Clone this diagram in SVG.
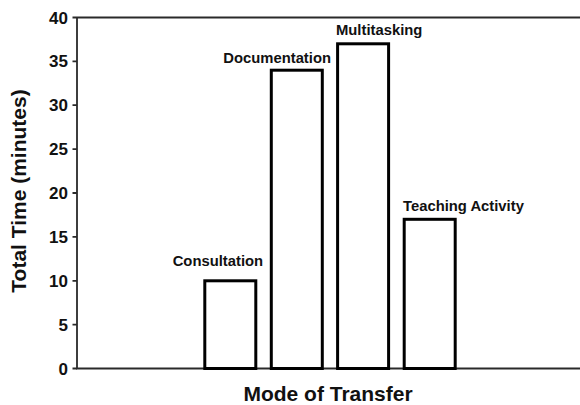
<svg xmlns="http://www.w3.org/2000/svg" width="580" height="405" viewBox="0 0 580 405">
<style>
.ax{stroke:#2a2a2a;stroke-width:1.8;fill:none}
.tick{font-family:"Liberation Sans",Arial,sans-serif;font-weight:bold;font-size:17px;fill:#111;text-anchor:end}
.bar{fill:#fff;stroke:#000;stroke-width:3}
.lbl{font-family:"Liberation Sans",Arial,sans-serif;font-weight:bold;font-size:14.8px;fill:#111}
.title{font-family:"Liberation Sans",Arial,sans-serif;font-weight:bold;font-size:21px;fill:#111}
</style>
<rect width="580" height="405" fill="#fff"/>
<g id="axes">
<path class="ax" d="M77,17.5H580M77,17.5V368.5H580"/>
<path class="ax" d="M72.5,17.5H77M72.5,61.4H77M72.5,105.2H77M72.5,149.1H77M72.5,193H77M72.5,236.9H77M72.5,280.8H77M72.5,324.6H77M72.5,368.5H77"/>
<text class="tick" x="68" y="23.5">40</text>
<text class="tick" x="68" y="67.4">35</text>
<text class="tick" x="68" y="111.2">30</text>
<text class="tick" x="68" y="155.1">25</text>
<text class="tick" x="68" y="199">20</text>
<text class="tick" x="68" y="242.9">15</text>
<text class="tick" x="68" y="286.8">10</text>
<text class="tick" x="68" y="330.6">5</text>
<text class="tick" x="68" y="374.5">0</text>
<text class="title" transform="translate(26,191) rotate(-90)" text-anchor="middle">Total Time (minutes)</text>
<text class="title" x="328" y="401" text-anchor="middle">Mode of Transfer</text>
</g>
<g id="consultation">
<rect class="bar" x="204.8" y="280.8" width="51" height="87.7"/>
<text class="lbl" x="172.7" y="266">Consultation</text>
</g>
<g id="documentation">
<rect class="bar" x="271.3" y="70.2" width="51" height="298.3"/>
<text class="lbl" x="223.3" y="62.5">Documentation</text>
</g>
<g id="multitasking">
<rect class="bar" x="337.6" y="43.8" width="51" height="324.7"/>
<text class="lbl" x="336" y="34.7">Multitasking</text>
</g>
<g id="teaching">
<rect class="bar" x="404.2" y="219.3" width="51" height="149.2"/>
<text class="lbl" x="403" y="211">Teaching Activity</text>
</g>
<g id="connectors"/>
</svg>
